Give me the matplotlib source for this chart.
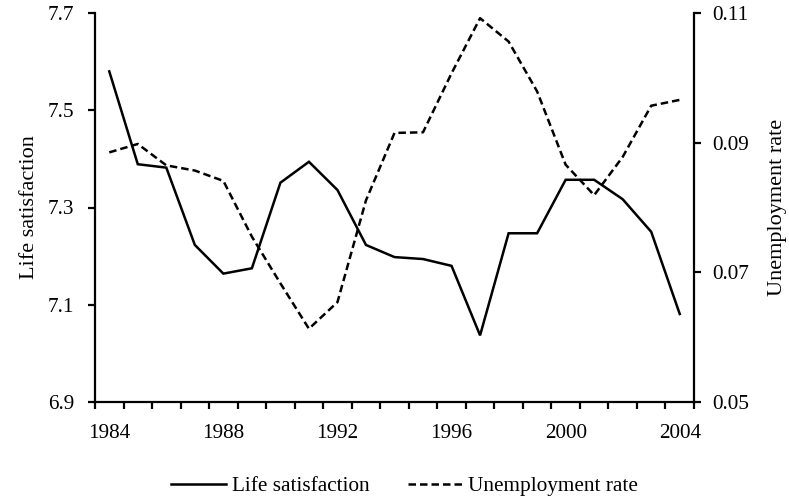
import matplotlib
matplotlib.use("Agg")
import matplotlib.pyplot as plt
from matplotlib.ticker import FixedLocator
from matplotlib.lines import Line2D

plt.rcParams['font.family'] = ['Liberation Serif', 'DejaVu Serif']

years = list(range(1984, 2005))
life_satisfaction = [7.580, 7.389, 7.382, 7.223, 7.164, 7.175, 7.351, 7.394, 7.336,
                     7.223, 7.198, 7.194, 7.180, 7.037, 7.247, 7.247, 7.357, 7.357,
                     7.317, 7.250, 7.081]
unemployment_rate = [0.0885, 0.0898, 0.0865, 0.0857, 0.0841, 0.0755, 0.0683, 0.0613,
                     0.0654, 0.0811, 0.0915, 0.0916, 0.1007, 0.1092, 0.1056, 0.0979,
                     0.0866, 0.0819, 0.0878, 0.0957, 0.0966]
year_labels = [1984, 1988, 1992, 1996, 2000, 2004]
left_ticks = [6.9, 7.1, 7.3, 7.5, 7.7]
right_ticks = [0.05, 0.07, 0.09, 0.11]

fig = plt.figure(figsize=(7.89, 4.99), dpi=100)
ax = fig.add_axes([95 / 789, 1 - 402 / 499, (694 - 95) / 789, (402 - 13) / 499])
ax2 = ax.twinx()

lw_spine = 1.6
lw_data = 1.8
dash = (0, (3.0, 1.6))
fs = 15.3

ax.plot(years, life_satisfaction, color='black', lw=lw_data, solid_joinstyle='miter')
ax2.plot(years, unemployment_rate, color='black', lw=lw_data, linestyle=dash)

ax.set_xlim(1983.5, 2004.5)
ax.set_ylim(6.9, 7.7)
ax2.set_ylim(0.05, 0.11)

ax.set_yticks(left_ticks)
ax.set_yticklabels([f"{v:.1f}" for v in left_ticks])
ax2.set_yticks(right_ticks)
ax2.set_yticklabels([f"{v:.2f}" for v in right_ticks])

ax.xaxis.set_major_locator(FixedLocator(year_labels))
ax.xaxis.set_minor_locator(FixedLocator([y - 0.5 for y in years] + [2004.5]))
ax.set_xticklabels([str(y) for y in year_labels])
ax.tick_params(axis='x', which='major', length=0, pad=16, labelsize=fs)
ax.tick_params(axis='x', which='minor', length=5, width=lw_spine, direction='out')
ax.tick_params(axis='y', length=5, width=lw_spine, direction='out', pad=10, labelsize=fs)
ax2.tick_params(axis='y', length=5, width=lw_spine, direction='out', pad=8, labelsize=fs)

for a in (ax, ax2):
    a.spines['top'].set_visible(False)
    for s in ('left', 'right', 'bottom'):
        a.spines[s].set_linewidth(lw_spine)
ax.spines['right'].set_visible(False)
ax2.spines['left'].set_visible(False)
ax2.spines['bottom'].set_visible(False)

ax.set_ylabel("Life satisfaction", fontsize=16, labelpad=6)
ax2.set_ylabel("Unemployment rate", fontsize=16, labelpad=14)

handles = [Line2D([], [], color='black', lw=lw_data),
           Line2D([], [], color='black', lw=lw_data, linestyle=dash)]
fig.legend(handles, ["Life satisfaction", "Unemployment rate"], loc='center',
           bbox_to_anchor=(404.5 / 789, 1 - 486 / 499), ncol=2, frameon=False,
           fontsize=fs, handlelength=2.6, handletextpad=0.25, columnspacing=1.8)

fig.savefig("out.png", dpi=100)
